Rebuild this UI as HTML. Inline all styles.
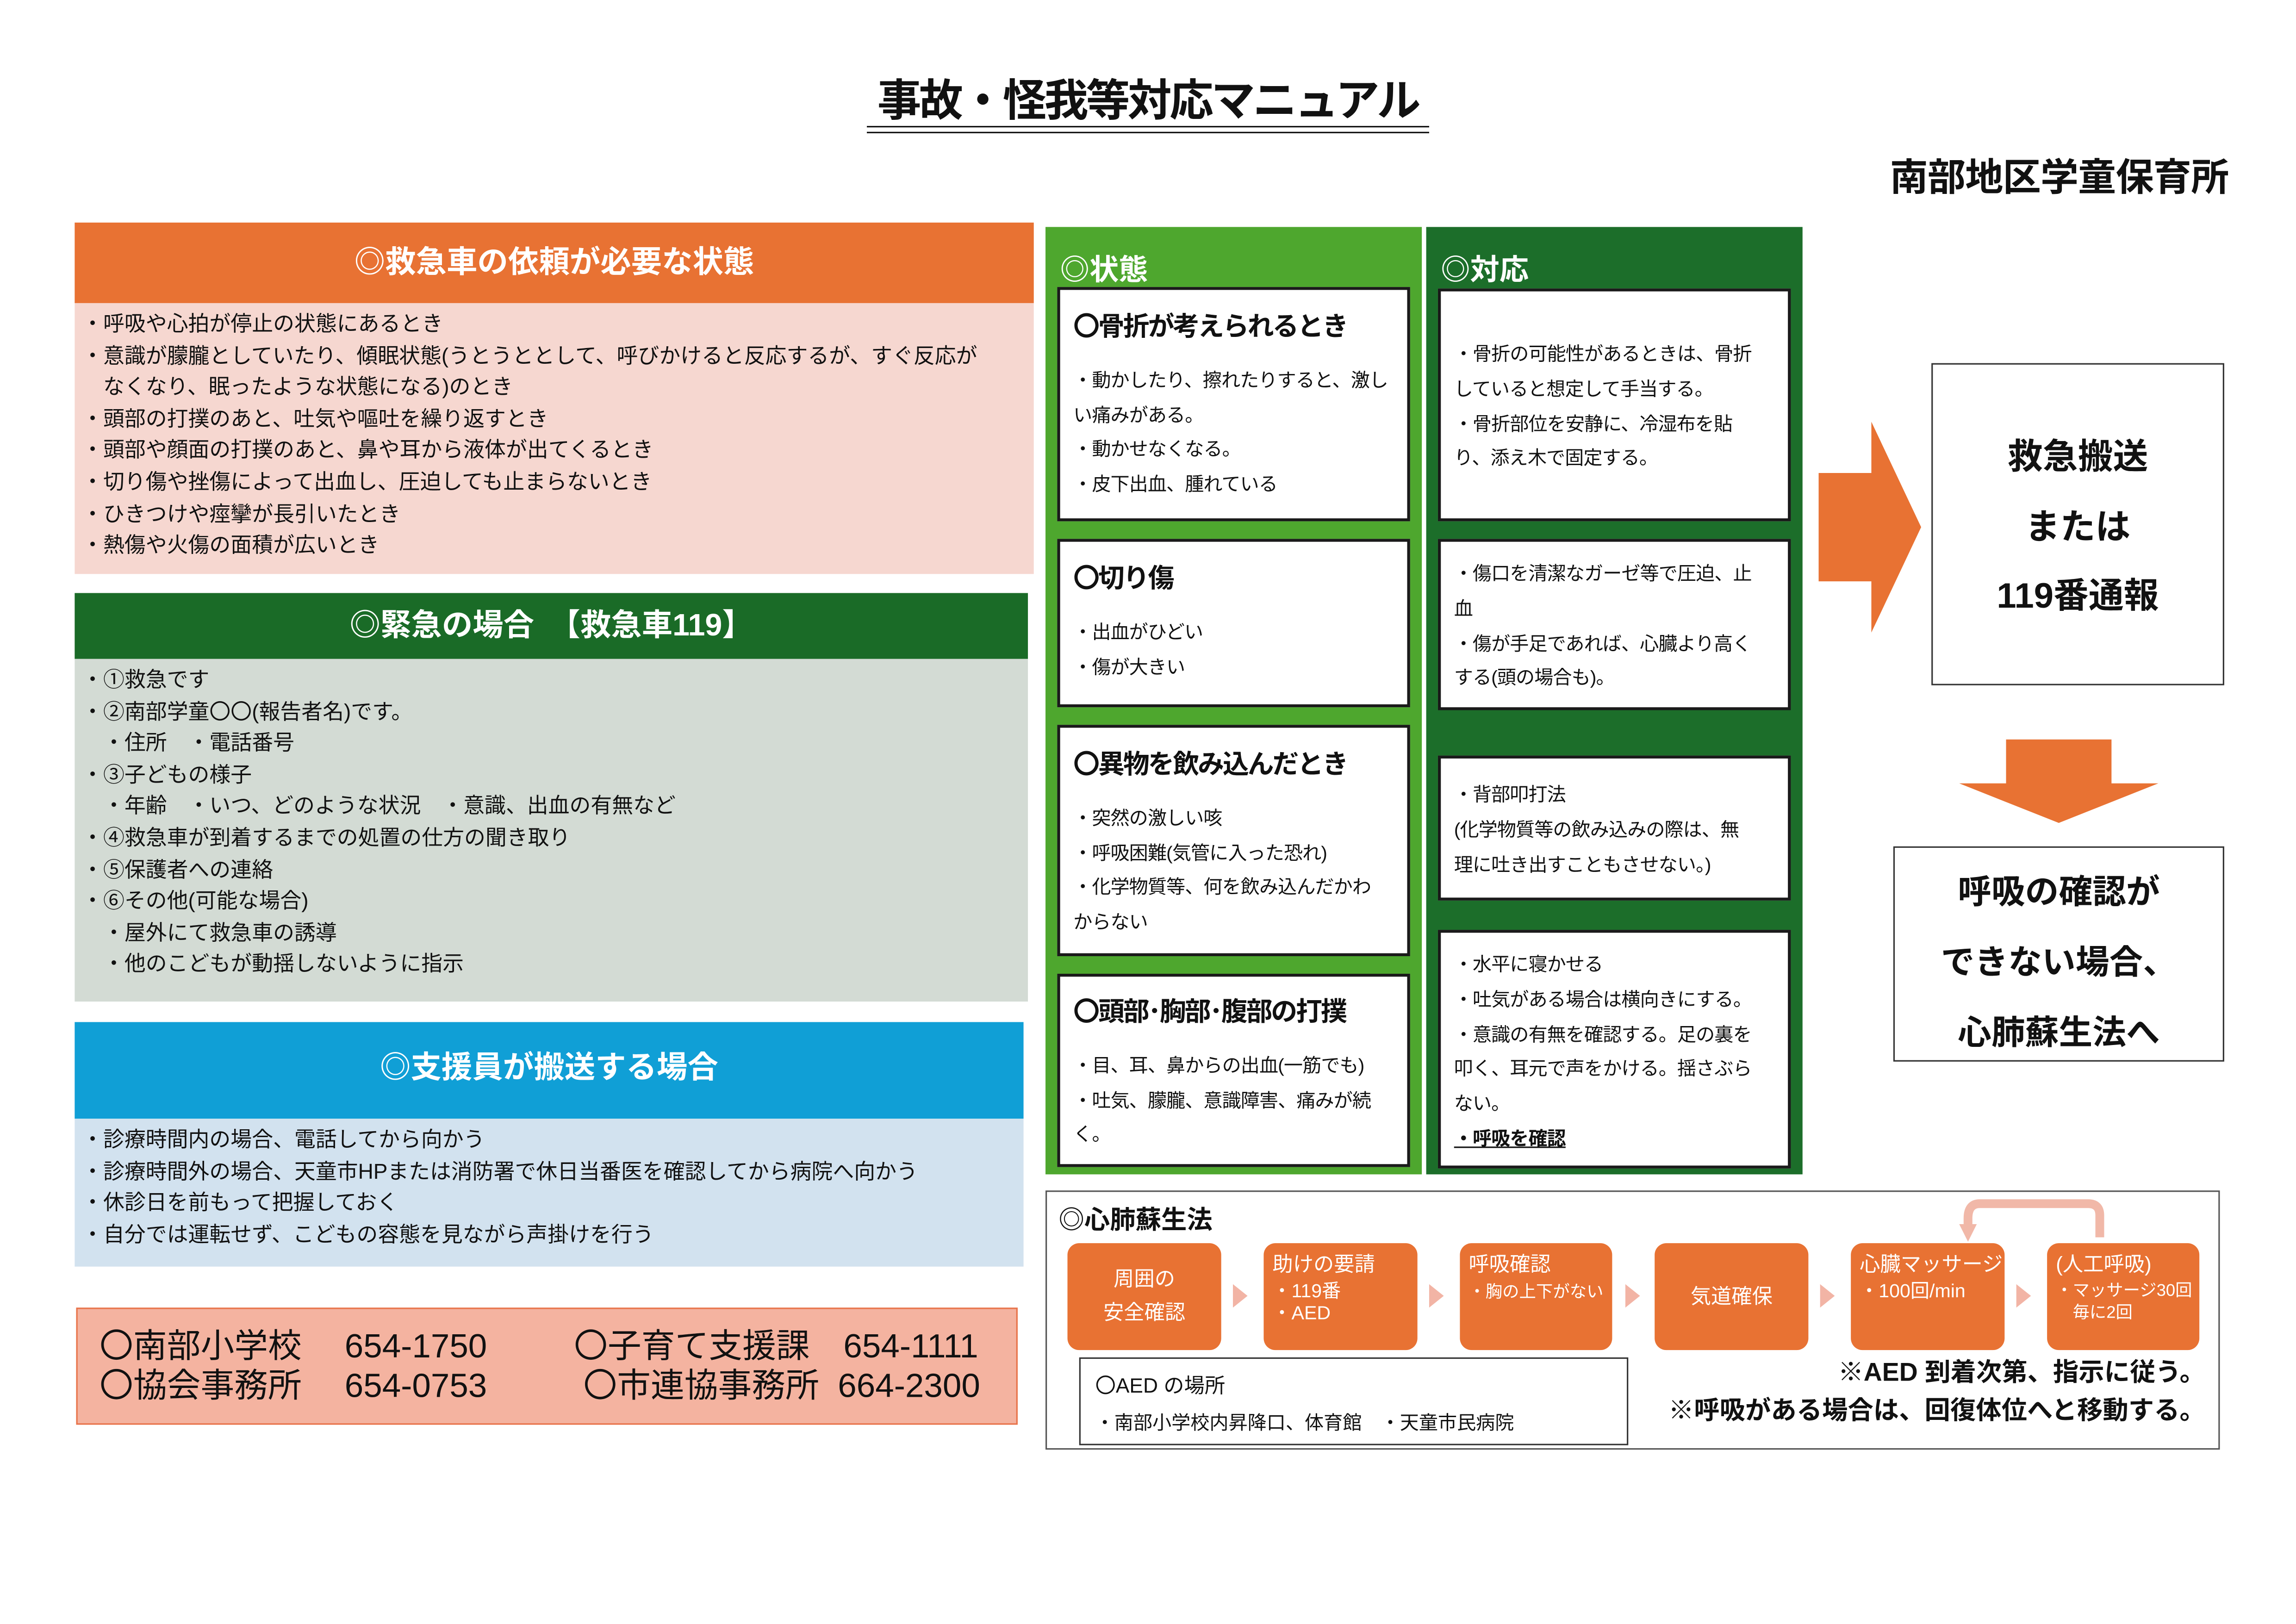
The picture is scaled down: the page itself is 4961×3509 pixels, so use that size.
<!DOCTYPE html>
<html><head><meta charset="utf-8">
<style>
html,body{margin:0;padding:0;background:#fff;}
body{width:4961px;height:3509px;overflow:hidden;}
#s{position:absolute;left:0;top:0;width:1568px;height:1109px;transform:scale(3.1639);transform-origin:0 0;font-family:"Liberation Sans","Noto Sans CJK JP",sans-serif;color:#111;}
#s div{position:absolute;box-sizing:border-box;}
.hd{color:#fff;font-weight:bold;font-size:21px;text-align:center;}
.ul{font-size:14.5px;line-height:21.6px;white-space:nowrap;}
.wb{background:#fff;border:2px solid #1a1a1a;}
.bx{font-size:13px;line-height:23.8px;padding-left:9px;white-space:nowrap;letter-spacing:-0.3px;}
.bx b{display:block;font-size:18px;margin-bottom:12px;letter-spacing:-1px;}
.ob{background:#e87233;border-radius:8px;color:#fff;font-size:13px;}
.ar{width:0;height:0;border-top:8px solid transparent;border-bottom:8px solid transparent;border-left:10px solid #f2b4a5;}
</style></head><body><div id="s">
<div style="left:560px;top:50px;width:448px;text-align:center;font-size:30px;font-weight:bold;line-height:40px;white-space:nowrap;letter-spacing:-1.5px;">事故・怪我等対応マニュアル</div>
<div style="left:592px;top:86px;width:384px;height:5px;border-top:1.5px solid #111;border-bottom:1.5px solid #111;"></div>
<div style="left:1260px;top:101px;width:262px;text-align:right;font-size:26px;font-weight:bold;white-space:nowrap;letter-spacing:-0.3px;">南部地区学童保育所</div>

<div class="hd" style="left:51px;top:152px;width:655px;height:55px;background:#e87233;line-height:55px;">◎救急車の依頼が必要な状態</div>
<div style="left:51px;top:207px;width:655px;height:185px;background:#f6d7d0;"></div>
<div class="ul" style="left:56px;top:212px;">・呼吸や心拍が停止の状態にあるとき<br>・意識が朦朧としていたり、傾眠状態(うとうととして、呼びかけると反応するが、すぐ反応が<br>　なくなり、眠ったような状態になる)のとき<br>・頭部の打撲のあと、吐気や嘔吐を繰り返すとき<br>・頭部や顔面の打撲のあと、鼻や耳から液体が出てくるとき<br>・切り傷や挫傷によって出血し、圧迫しても止まらないとき<br>・ひきつけや痙攣が長引いたとき<br>・熱傷や火傷の面積が広いとき</div>

<div class="hd" style="left:51px;top:405px;width:651px;height:45px;background:#1a6b27;line-height:45px;">◎緊急の場合　【救急車119】</div>
<div style="left:51px;top:450px;width:651px;height:234px;background:#d3dbd4;"></div>
<div class="ul" style="left:56px;top:455px;">・①救急です<br>・②南部学童〇〇(報告者名)です。<br>　・住所　・電話番号<br>・③子どもの様子<br>　・年齢　・いつ、どのような状況　・意識、出血の有無など<br>・④救急車が到着するまでの処置の仕方の聞き取り<br>・⑤保護者への連絡<br>・⑥その他(可能な場合)<br>　・屋外にて救急車の誘導<br>　・他のこどもが動揺しないように指示</div>

<div class="hd" style="left:51px;top:698px;width:648px;height:66px;background:#109fd6;line-height:64px;">◎支援員が搬送する場合</div>
<div style="left:51px;top:764px;width:648px;height:101px;background:#d2e2ef;"></div>
<div class="ul" style="left:56px;top:769px;">・診療時間内の場合、電話してから向かう<br>・診療時間外の場合、天童市HPまたは消防署で休日当番医を確認してから病院へ向かう<br>・休診日を前もって把握しておく<br>・自分では運転せず、こどもの容態を見ながら声掛けを行う</div>

<div style="left:52px;top:893px;width:643px;height:80px;background:#f4b3a0;border:1.5px solid #e8734a;"></div>
<div style="left:68px;top:906px;font-size:23px;line-height:27px;white-space:pre;">〇南部小学校　 654-1750<br>〇協会事務所　 654-0753</div>
<div style="left:392px;top:906px;font-size:23px;line-height:27px;white-space:pre;">〇子育て支援課　654-1111<br> 〇市連協事務所  664-2300</div>

<div style="left:714px;top:155px;width:257px;height:647px;background:#4ea72e;"></div>
<div style="left:974px;top:155px;width:257px;height:647px;background:#1c6e2a;"></div>
<div style="left:724px;top:168px;color:#fff;font-size:20px;font-weight:bold;">◎状態</div>
<div style="left:984px;top:168px;color:#fff;font-size:20px;font-weight:bold;">◎対応</div>

<div class="wb bx" style="left:722px;top:196px;width:241px;height:160px;padding-top:14px;"><b>〇骨折が考えられるとき</b>・動かしたり、擦れたりすると、激し<br>い痛みがある。<br>・動かせなくなる。<br>・皮下出血、腫れている</div>
<div class="wb bx" style="left:722px;top:368px;width:241px;height:115px;padding-top:14px;"><b>〇切り傷</b>・出血がひどい<br>・傷が大きい</div>
<div class="wb bx" style="left:722px;top:495px;width:241px;height:158px;padding-top:14px;"><b>〇異物を飲み込んだとき</b>・突然の激しい咳<br>・呼吸困難(気管に入った恐れ)<br>・化学物質等、何を飲み込んだかわ<br>からない</div>
<div class="wb bx" style="left:722px;top:665px;width:241px;height:132px;padding-top:13px;"><b>〇頭部･胸部･腹部の打撲</b>・目、耳、鼻からの出血(一筋でも)<br>・吐気、朦朧、意識障害、痛みが続<br>く。</div>

<div class="wb bx" style="left:982px;top:197px;width:241px;height:159px;padding-top:31px;">・骨折の可能性があるときは、骨折<br>していると想定して手当する。<br>・骨折部位を安静に、冷湿布を貼<br>り、添え木で固定する。</div>
<div class="wb bx" style="left:982px;top:368px;width:241px;height:117px;padding-top:10px;">・傷口を清潔なガーゼ等で圧迫、止<br>血<br>・傷が手足であれば、心臓より高く<br>する(頭の場合も)。</div>
<div class="wb bx" style="left:982px;top:516px;width:241px;height:99px;padding-top:13px;">・背部叩打法<br>(化学物質等の飲み込みの際は、無<br>理に吐き出すこともさせない。)</div>
<div class="wb bx" style="left:982px;top:635px;width:241px;height:163px;padding-top:10px;">・水平に寝かせる<br>・吐気がある場合は横向きにする。<br>・意識の有無を確認する。足の裏を<br>叩く、耳元で声をかける。揺さぶら<br>ない。<br><u style="font-weight:bold;">・呼吸を確認</u></div>

<svg style="position:absolute;left:0;top:0" width="1568" height="1109">
<polygon points="1242,323 1278,323 1278,288 1312,360 1278,432 1278,397 1242,397" fill="#e87233"/>
<polygon points="1370,505 1442,505 1442,535 1474,535 1406,562 1338,535 1370,535" fill="#e87233"/>
<path d="M1434,845 L1434,830 Q1434,822 1426,822 L1352,822 Q1344,822 1344,832 L1344,838" fill="none" stroke="#f1b8a8" stroke-width="6"/>
<polygon points="1338,836 1350,836 1344,848" fill="#f1b8a8"/>
</svg>
<div style="left:1319px;top:248px;width:200px;height:220px;border:1px solid #333;background:#fff;text-align:center;font-size:24px;font-weight:bold;line-height:47.5px;padding-top:40px;">救急搬送<br>または<br>119番通報</div>
<div style="left:1293px;top:578px;width:226px;height:147px;border:1px solid #333;background:#fff;text-align:center;font-size:23px;font-weight:bold;line-height:48px;padding-top:6px;">呼吸の確認が<br>できない場合、<br>心肺蘇生法へ</div>

<div style="left:714px;top:813px;width:802px;height:177px;border:1.5px solid #555;"></div>
<div style="left:723px;top:820px;font-size:17.5px;font-weight:bold;">◎心肺蘇生法</div>
<div class="ob" style="left:729px;top:849px;width:105px;height:73px;text-align:center;font-size:14px;line-height:23px;padding-top:13px;">周囲の<br>安全確認</div>
<div class="ob" style="left:863px;top:849px;width:105px;height:73px;padding:3px 0 0 6px;line-height:15px;"><span style="font-size:14px;line-height:22px;">助けの要請</span><br>・119番<br>・AED</div>
<div class="ob" style="left:997px;top:849px;width:104px;height:73px;padding:3px 0 0 6px;line-height:15px;white-space:nowrap;"><span style="font-size:14px;line-height:22px;">呼吸確認</span><br><span style="font-size:11.5px;">・胸の上下がない</span></div>
<div class="ob" style="left:1130px;top:849px;width:105px;height:73px;text-align:center;font-size:14px;line-height:73px;">気道確保</div>
<div class="ob" style="left:1264px;top:849px;width:105px;height:73px;padding:3px 0 0 6px;line-height:15px;white-space:nowrap;"><span style="font-size:14px;line-height:22px;">心臓マッサージ</span><br>・100回/min</div>
<div class="ob" style="left:1398px;top:849px;width:104px;height:73px;padding:3px 0 0 6px;line-height:13px;white-space:nowrap;"><span style="font-size:14px;line-height:22px;">(人工呼吸)</span><br><span style="font-size:11.5px;">・マッサージ30回<br>　毎に2回</span></div>
<div class="ar" style="left:842px;top:877px;"></div>
<div class="ar" style="left:976px;top:877px;"></div>
<div class="ar" style="left:1110px;top:877px;"></div>
<div class="ar" style="left:1243px;top:877px;"></div>
<div class="ar" style="left:1377px;top:877px;"></div>

<div style="left:737px;top:927px;width:375px;height:60px;border:1.5px solid #333;background:#fff;padding:6px 0 0 10px;font-size:14px;line-height:25px;">〇AED の場所<br><span style="font-size:13px;">・南部小学校内昇降口、体育館　・天童市民病院</span></div>
<div style="left:1100px;top:924px;width:406px;text-align:right;font-size:17.5px;font-weight:bold;line-height:26px;white-space:nowrap;">※AED 到着次第、指示に従う。<br>※呼吸がある場合は、回復体位へと移動する。</div>
</div></body></html>
